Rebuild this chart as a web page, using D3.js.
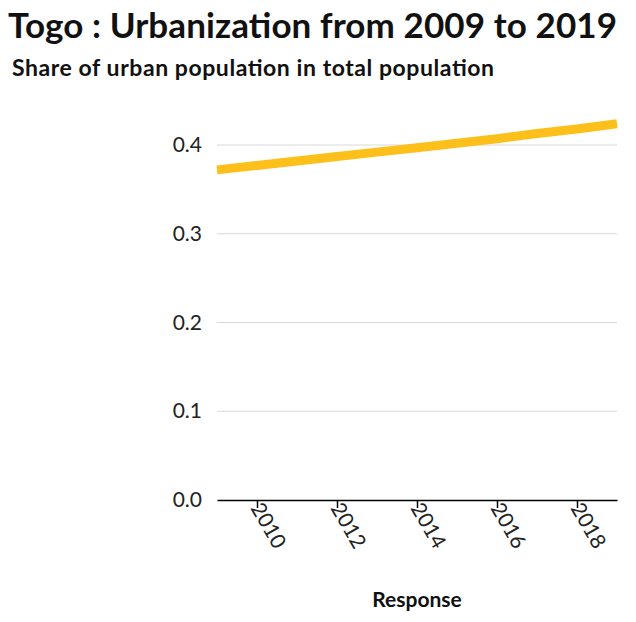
<!DOCTYPE html>
<html>
<head>
<meta charset="UTF-8" />
<script src="https://cdn.jsdelivr.net/npm/d3@7"></script>
<style>
 body { margin:0; background:#fff; font-family: Lato, "Open Sans", sans-serif; }
 .grid line { stroke:#d9d9d9; }
</style>
</head>
<body>
<svg id="chart" width="636" height="622"></svg>
<script>
var years = [2009,2010,2011,2012,2013,2014,2015,2016,2017,2018,2019];
var urbanShare = [0.372,0.377,0.382,0.387,0.392,0.397,0.402,0.407,0.413,0.418,0.424];
var yTicks = [0,0.1,0.2,0.3,0.4];
var xTicks = [2010,2012,2014,2016,2018];

var svg = d3.select("#chart");
var x = d3.scaleLinear().domain([2009,2019]).range([217,617]);
var y = d3.scaleLinear().domain([0,0.4]).range([500,145]);

svg.append("text").attr("x",8).attr("y",38).attr("font-size",35).attr("font-weight","bold")
	.attr("fill","#111").attr("textLength",609).text("Togo : Urbanization from 2009 to 2019");
svg.append("text").attr("x",12).attr("y",76).attr("font-size",23).attr("font-weight","bold")
	.attr("fill","#111").attr("textLength",482).text("Share of urban population in total population");

// grid
svg.append("g").attr("class","grid").selectAll("line").data(yTicks.slice(1)).enter().append("line")
	.attr("x1",217).attr("x2",617).attr("y1",d=>y(d)).attr("y2",d=>y(d));

svg.append("g").selectAll("text").data(yTicks).enter().append("text")
	.attr("x",202).attr("y",d=>y(d)+7).attr("text-anchor","end").attr("font-size",21).attr("fill","#222")
	.text(d=>d.toFixed(1));

// x axis
var xa = svg.append("g").attr("transform","translate(0,500)")
	.call(d3.axisBottom(x).tickValues(xTicks).tickFormat(d3.format("d")).tickSize(8).tickSizeOuter(0));
xa.select(".domain").attr("stroke","#000").attr("stroke-width",1.5);
xa.selectAll(".tick line").attr("stroke","#000").attr("stroke-width",1.5);
xa.selectAll(".tick text").attr("font-size",21).attr("font-family","Lato, sans-serif").attr("fill","#222")
	.attr("text-anchor","start").attr("transform","translate(-4,6) rotate(60)").attr("dy","0").attr("dx","0").attr("y",4);

svg.append("text").attr("x",417).attr("y",607).attr("text-anchor","middle").attr("font-size",21)
	.attr("font-weight","bold").attr("fill","#111").text("Response");

svg.append("path").datum(years.map((d,i)=>[d,urbanShare[i]]))
	.attr("fill","none").attr("stroke","#fdbf1a").attr("stroke-width",9)
	.attr("d",d3.line().x(d=>x(d[0])).y(d=>y(d[1])));
</script>
</body>
</html>
